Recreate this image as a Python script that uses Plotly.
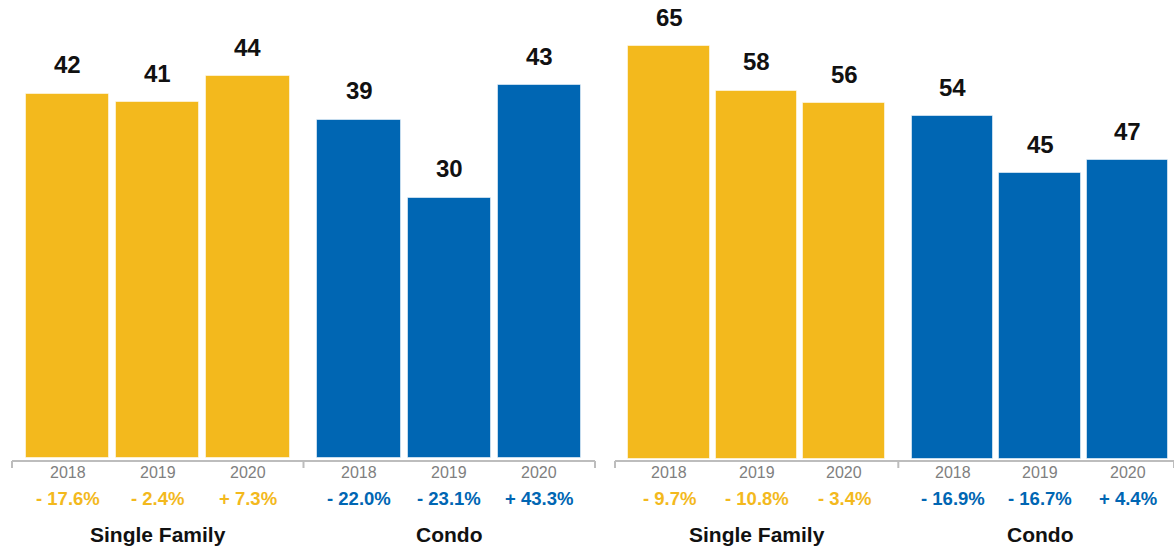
import plotly.graph_objects as go

# ---- data -------------------------------------------------------------
years = ["2018", "2019", "2020"]
groups = ["Single Family", "Condo"]

left_single_family = [42, 41, 44]
left_condo = [39, 30, 43]
right_single_family = [65, 58, 56]
right_condo = [54, 45, 47]

left_single_family_change = [-17.6, -2.4, 7.3]
left_condo_change = [-22.0, -23.1, 43.3]
right_single_family_change = [-9.7, -10.8, -3.4]
right_condo_change = [-16.9, -16.7, 4.4]

# ---- style ------------------------------------------------------------
YELLOW = "#F3B91D"
BLUE = "#0066B3"
AXIS_GRAY = "#BDBDBD"
YEAR_GRAY = "#7F7F7F"
FONT = "Liberation Sans, Arial, Helvetica, sans-serif"
GROUP_GAP = 0.24
BAR_WIDTH = 0.93

W, H = 1174, 549
MARGIN_B = 87.5

panels = [
    dict(xa="x", ya="y", domain=[12 / W, 595 / W], xrange=[-0.617, 5.857],
         yrange=[-0.29, 52.8],
         series=[left_single_family, left_condo],
         changes=[left_single_family_change, left_condo_change]),
    dict(xa="x2", ya="y2", domain=[615 / W, 1.0], xrange=[-0.617, 5.77],
         yrange=[-0.39, 72.3],
         series=[right_single_family, right_condo],
         changes=[right_single_family_change, right_condo_change]),
]
colors = [YELLOW, BLUE]


def fmt_change(v):
    sign = "+" if v > 0 else "-"
    return f"{sign} {abs(v):.1f}%"


def pos(g, i):
    return g * (len(years) + GROUP_GAP) + i


fig = go.Figure()
annotations = []
shapes = []

for p in panels:
    xa, ya = p["xa"], p["ya"]
    for g, (vals, chg) in enumerate(zip(p["series"], p["changes"])):
        xs = [pos(g, i) for i in range(len(years))]
        fig.add_trace(go.Bar(
            x=xs, y=vals, width=BAR_WIDTH, xaxis=xa, yaxis=ya,
            marker=dict(color=colors[g], line=dict(color="rgba(255,255,255,0.55)", width=1)),
            hoverinfo="skip", showlegend=False,
        ))
        for x, v, c, yr in zip(xs, vals, chg, years):
            # value above bar
            annotations.append(dict(
                x=x, y=v, xref=xa, yref=ya, text=f"<b>{v}</b>", showarrow=False,
                yanchor="middle", yshift=29,
                font=dict(family=FONT, size=24, color="#111111")))
            # year label
            annotations.append(dict(
                x=x, y=0, xref=xa, yref="paper", text=yr, showarrow=False,
                yanchor="middle", yshift=-11.5,
                font=dict(family=FONT, size=16, color=YEAR_GRAY)))
            # change label
            annotations.append(dict(
                x=x, y=0, xref=xa, yref="paper", text=f"<b>{fmt_change(c)}</b>",
                showarrow=False, yanchor="middle", yshift=-37.5,
                font=dict(family=FONT, size=18.5, color=colors[g])))
        # group name
        annotations.append(dict(
            x=pos(g, 1), y=0, xref=xa, yref="paper", text=f"<b>{groups[g]}</b>",
            showarrow=False, yanchor="middle", yshift=-73.5,
            font=dict(family=FONT, size=21, color="#111111")))

    # category axis line with end and divider ticks
    dom = f"{xa} domain"
    shapes.append(dict(type="line", xref=dom, yref="paper", x0=0, x1=1, y0=0, y1=0,
                       line=dict(color=AXIS_GRAY, width=2)))
    divider = pos(0, len(years) - 1) + (1 + GROUP_GAP) / 2
    for xref, xv in [(dom, 0), (dom, 1), (xa, divider)]:
        shapes.append(dict(type="line", xref=xref, yref="paper", ysizemode="pixel",
                           yanchor=0, x0=xv, x1=xv, y0=0, y1=-7,
                           line=dict(color=AXIS_GRAY, width=2)))

axis_common = dict(showgrid=False, zeroline=False, showticklabels=False,
                   showline=False, ticks="", fixedrange=True)

fig.update_layout(
    width=W, height=H,
    margin=dict(l=0, r=0, t=0, b=MARGIN_B),
    paper_bgcolor="white", plot_bgcolor="white",
    bargap=0,
    xaxis=dict(domain=panels[0]["domain"], range=panels[0]["xrange"], anchor="y", **axis_common),
    yaxis=dict(range=panels[0]["yrange"], anchor="x", **axis_common),
    xaxis2=dict(domain=panels[1]["domain"], range=panels[1]["xrange"], anchor="y2", **axis_common),
    yaxis2=dict(range=panels[1]["yrange"], anchor="x2", **axis_common),
    annotations=annotations,
    shapes=shapes,
)

fig.write_html("out.html", config={"displayModeBar": False})
